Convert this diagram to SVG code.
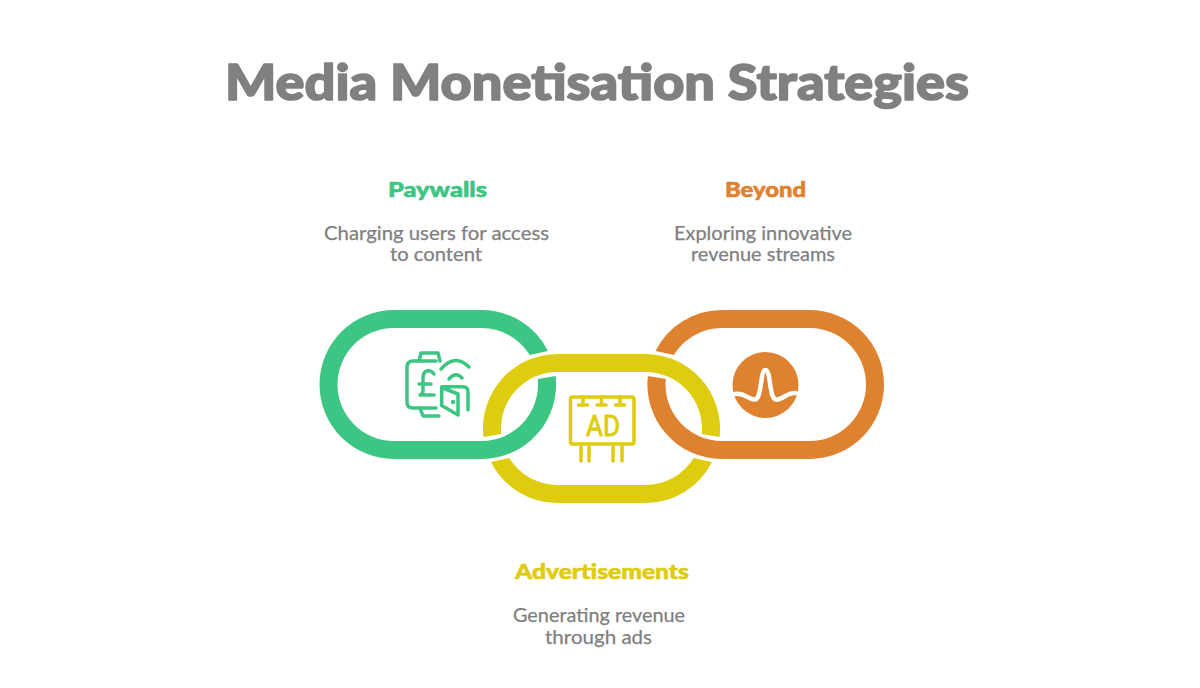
<svg xmlns="http://www.w3.org/2000/svg" width="1200" height="688" viewBox="0 0 1200 688">
<style>
text{font-family:"Lato","Noto Sans","Liberation Sans",sans-serif;text-anchor:start}
.title{font-size:50px;font-weight:900;fill:#808080;stroke:#808080;stroke-width:1.6px;stroke-linejoin:round}
.head{font-size:21px;font-weight:900;stroke-width:.6px;stroke-linejoin:round}
.desc{font-size:19px;font-weight:400;fill:#808080;stroke:#808080;stroke-width:.25px}
.g{fill:#3CC583}.y{fill:#DECC0F}.o{fill:#DF8230}
.ic{fill:none;stroke-width:3.500;stroke-linecap:round;stroke-linejoin:round}
</style>
<rect width="1200" height="688" fill="#fff"/>
<text id="title" class="title" x="225" y="100" textLength="744" lengthAdjust="spacingAndGlyphs">Media Monetisation Strategies</text>
<g id="connectors"/>
<g id="paywalls">
<path class="g" d="M548 351A74.5 74.5 0 0 0 481.5 310H394A74.5 74.5 0 0 0 394 459H481.5A74.5 74.5 0 0 0 555.6 376L537.7 379A56.5 56.5 0 0 1 481.5 441H394A56.5 56.5 0 0 1 394 328H481.5A56.5 56.5 0 0 1 529.7 355Z"/>
<g class="ic" stroke="#3CC583">
<path d="M436 361H413Q407 361 407 367V402Q407 408 413 408H436"/>
<path d="M419 361L421 353H438L440 361M420 408L423 416H439"/>
<path d="M434 374Q431 370 427 371Q423 372 423 378V391Q423 394 420 395H434M419 384H431"/>
<path d="M441 369Q455 353 469 367M449 379Q456 371 462 378"/>
<path d="M441.7 387.5L458 394V415L441.7 405.5ZM441.7 386.7H463Q468 386.7 468 392V410"/>
</g>
<circle cx="453" cy="402" r="2.200" fill="#3CC583"/>
<text class="head g" stroke="#3CC583" x="388" y="197" textLength="99" lengthAdjust="spacingAndGlyphs">Paywalls</text>
<text class="desc" x="324" y="240" textLength="225" lengthAdjust="spacingAndGlyphs">Charging users for access</text>
<text class="desc" x="390" y="261" textLength="92" lengthAdjust="spacingAndGlyphs">to content</text>
</g>
<g id="advertisements">
<path class="y" d="M483.5 437A74.5 74.5 0 0 1 557.5 354H645.5A74.5 74.5 0 0 1 719.5 437L701.7 434A56.5 56.5 0 0 0 645.5 372H557.5A56.5 56.5 0 0 0 501.3 434Z"/>
<path class="y" d="M491 462A74.5 74.5 0 0 0 557.5 503H645.5A74.5 74.5 0 0 0 712 462L693.7 458A56.5 56.5 0 0 1 645.5 485H557.5A56.5 56.5 0 0 1 509.3 458Z"/>
<g class="ic" stroke="#DECC0F">
<rect x="570.5" y="397" width="63.5" height="47" rx="2"/>
<path d="M581 444V461M589 444V461M613 444V461M622 444V461"/>
<path d="M583 397V405M578.5 405H587.500M601.500 397V405M597 405H606M620 397V405M615.500 405H624.500"/>
</g>
<text class="y" x="586" y="436" font-size="30" textLength="34" lengthAdjust="spacingAndGlyphs" stroke="#DECC0F" stroke-width="1" stroke-linejoin="round" style="font-family:'Roboto',sans-serif;font-weight:400">AD</text>
<text class="head y" stroke="#DECC0F" x="515" y="579" textLength="174" lengthAdjust="spacingAndGlyphs">Advertisements</text>
<text class="desc" x="513" y="622" textLength="172" lengthAdjust="spacingAndGlyphs">Generating revenue</text>
<text class="desc" x="545" y="644" textLength="107" lengthAdjust="spacingAndGlyphs">through ads</text>
</g>
<g id="beyond">
<path class="o" d="M655.500 351A74.500 74.500 0 0 1 722 310H809.500A74.500 74.500 0 0 1 809.500 459H722A74.500 74.500 0 0 1 647.900 376L665.800 379A56.500 56.500 0 0 0 722 441H809.500A56.500 56.500 0 0 0 809.500 328H722A56.500 56.500 0 0 0 673.800 355Z"/>
<circle class="o" cx="765.500" cy="385" r="33"/>
<path d="M735 394C745 392 748 400 755 399.500C762 399 760 370 765.500 370C771 370 769 399 776 399.500C783 400 787 392 796 393" fill="none" stroke="#fff" stroke-width="4.500" stroke-linecap="round"/>
<text class="head o" stroke="#DF8230" x="725" y="197" textLength="81" lengthAdjust="spacingAndGlyphs">Beyond</text>
<text class="desc" x="674" y="240" textLength="178" lengthAdjust="spacingAndGlyphs">Exploring innovative</text>
<text class="desc" x="691" y="261" textLength="144" lengthAdjust="spacingAndGlyphs">revenue streams</text>
</g>
</svg>
